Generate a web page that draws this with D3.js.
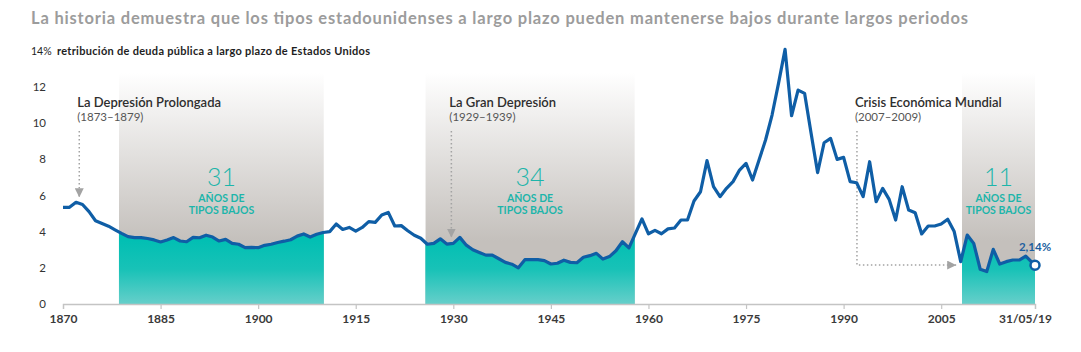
<!DOCTYPE html>
<html><head><meta charset="utf-8">
<script src="https://cdn.jsdelivr.net/npm/d3@7"></script>
<style>
body{margin:0;background:#fff}
svg{display:block}
text{font-family:Lato,'Open Sans',sans-serif}
</style>
</head><body>
<svg id="c" width="1081" height="352"></svg>
<script>
// ---------- data ----------
const years = d3.range(1870, 2019).concat([2019.42]);
const yields = [
  5.34,5.34,5.62,5.50,5.10,4.60,4.45,4.30,4.10,3.90,   // 1870-1879
  3.72,3.67,3.67,3.62,3.54,3.43,3.54,3.67,3.48,3.44,   // 1880-1889
  3.68,3.66,3.80,3.70,3.48,3.57,3.35,3.30,3.11,3.13,   // 1890-1899
  3.11,3.24,3.30,3.40,3.47,3.55,3.75,3.87,3.70,3.85,   // 1900-1909
  3.95,4.00,4.42,4.12,4.23,4.03,4.23,4.55,4.51,4.92,   // 1910-1919
  5.06,4.31,4.33,4.05,3.80,3.63,3.30,3.35,3.60,3.31,   // 1920-1929
  3.35,3.68,3.25,3.00,2.85,2.70,2.70,2.50,2.30,2.20,   // 1930-1939
  2.00,2.45,2.45,2.45,2.40,2.21,2.25,2.42,2.30,2.28,   // 1940-1949
  2.58,2.67,2.80,2.48,2.62,2.94,3.44,3.10,3.90,4.70,   // 1950-1959
  3.88,4.07,3.88,4.15,4.20,4.64,4.64,5.69,6.20,7.92,   // 1960-1969
  6.48,5.93,6.39,6.76,7.40,7.77,6.85,7.96,9.06,10.44,  // 1970-1979
  12.20,14.07,10.40,11.82,11.64,9.43,7.26,8.91,9.15,7.99, // 1980-1989
  8.10,6.76,6.70,5.93,7.86,5.65,6.39,5.78,4.64,6.48,   // 1990-1999
  5.19,5.04,3.87,4.31,4.31,4.42,4.68,4.00,2.34,3.81,   // 2000-2009
  3.35,1.92,1.79,3.02,2.21,2.34,2.43,2.43,2.65,        // 2010-2018
  2.14                                                 // 31/05/2019
];
const lastLabel = "2,14%";

const bandStart = [1878.6, 1925.7, 2008.2];
const bandEnd   = [1910.1, 1957.9, 2019.42];
const bandCount = ["31", "34", "11"];
const bandText1 = "AÑOS DE";
const bandText2 = "TIPOS BAJOS";
const bandTop = 12.8;

const annTitles  = ["La Depresión Prolongada", "La Gran Depresión", "Crisis Económica Mundial"];
const annPeriods = ["(1873–1879)", "(1929–1939)", "(2007–2009)"];
const annYears   = [1872.5, 1929.7, 1992.05];
const crisisArrowEnd = 2007.3;
const crisisArrowValue = 2.15;

const yTicks = [0, 2, 4, 6, 8, 10, 12];
const xTicks = [1870, 1885, 1900, 1915, 1930, 1945, 1960, 1975, 1990, 2005, 2019.42];
const xTickLabels = ["1870","1885","1900","1915","1930","1945","1960","1975","1990","2005","31/05/19"];

const titleText = "La historia demuestra que los tipos estadounidenses a largo plazo pueden mantenerse bajos durante largos periodos";
const unitText = "14%";
const subtitleText = "retribución de deuda pública a largo plazo de Estados Unidos";

// ---------- layout ----------
const svg = d3.select("#c");
const x = d3.scaleLinear().domain([1870, 2019.42]).range([63, 1035]);
const y = d3.scaleLinear().domain([0, 14]).range([304, 50.6]);
const pts = years.map((yr, i) => ({yr, v: yields[i]}));
const TEAL = "#1db5aa";
const BLUE = "#0f5ea6";

const defs = svg.append("defs");
const gg = defs.append("linearGradient").attr("id","gray").attr("gradientUnits","userSpaceOnUse")
  .attr("x1",0).attr("x2",0).attr("y1",y(bandTop)).attr("y2",y(3.5));
gg.append("stop").attr("offset",0).attr("stop-color","#ffffff");
gg.append("stop").attr("offset",1).attr("stop-color","#c4c0bc");
const tg = defs.append("linearGradient").attr("id","teal").attr("gradientUnits","userSpaceOnUse")
  .attr("x1",0).attr("x2",0).attr("y1",y(3.5)).attr("y2",y(0));
tg.append("stop").attr("offset",0).attr("stop-color","#02bfb3");
tg.append("stop").attr("offset",0.45).attr("stop-color","#18c2b7");
tg.append("stop").attr("offset",1).attr("stop-color","#66cfca");
const mk = defs.append("marker").attr("id","arr").attr("viewBox","0 0 10 10").attr("refX",10).attr("refY",5)
  .attr("markerWidth",9).attr("markerHeight",9).attr("markerUnits","userSpaceOnUse").attr("orient","auto");
mk.append("path").attr("d","M0,0L10,5L0,10Z").attr("fill","#a3a3a3");

// title
svg.append("text").attr("x",31).attr("y",24).attr("font-size",16.5).attr("font-weight",700)
  .attr("fill","#9c9c9c").attr("textLength",937).attr("lengthAdjust","spacing").text(titleText);
svg.append("text").attr("x",31).attr("y",55).attr("font-size",10.5).attr("fill","#222").text(unitText);
svg.append("text").attr("x",57).attr("y",55).attr("font-size",11).attr("font-weight",700).attr("fill","#1e1e1e")
  .attr("textLength",313).attr("lengthAdjust","spacing").text(subtitleText);

// bands
bandStart.forEach((s, i) => {
  const e = bandEnd[i];
  const cid = "clip" + i;
  defs.append("clipPath").attr("id", cid).append("rect")
    .attr("x", x(s)).attr("y", 0).attr("width", x(e) - x(s)).attr("height", 400);
  const g = svg.append("g").attr("clip-path", `url(#${cid})`);
  g.append("rect").attr("x", x(s)).attr("y", y(bandTop)).attr("width", x(e)-x(s))
    .attr("height", y(0)-y(bandTop)).attr("fill","url(#gray)");
  g.append("path").datum(pts)
    .attr("d", d3.area().x(d => x(d.yr)).y0(y(0)).y1(d => y(d.v)))
    .attr("fill","url(#teal)");
  const cx = (x(s) + x(e)) / 2;
  svg.append("text").attr("x",cx).attr("y",185.5).attr("text-anchor","middle")
    .attr("font-size",25).attr("font-weight",300).attr("fill",TEAL).text(bandCount[i]);
  svg.append("text").attr("x",cx).attr("y",202).attr("text-anchor","middle")
    .attr("font-size",10.5).attr("font-weight",700).attr("fill",TEAL).text(bandText1);
  svg.append("text").attr("x",cx).attr("y",213.5).attr("text-anchor","middle")
    .attr("font-size",10.5).attr("font-weight",700).attr("fill",TEAL).text(bandText2);
});

// axes
const yAxis = svg.append("g").attr("transform","translate(46,0)")
  .call(d3.axisLeft(y).tickValues(yTicks).tickSize(0).tickPadding(0).tickFormat(d3.format("d")));
yAxis.select(".domain").remove();
yAxis.selectAll("text").attr("font-size",11.5).attr("fill","#333").attr("font-family","Lato,'Open Sans',sans-serif");

const xAxis = svg.append("g").attr("transform",`translate(0,${y(0)})`)
  .call(d3.axisBottom(x).tickValues(xTicks).tickSize(5).tickPadding(5).tickFormat((d,i) => xTickLabels[i]));
xAxis.select(".domain").attr("stroke","#c4c4c4").attr("stroke-width",1.3);
xAxis.selectAll(".tick line").attr("stroke","#c4c4c4").attr("stroke-width",1.2);
xAxis.selectAll("text").attr("font-size",12).attr("font-weight",700).attr("fill","#3a3a3a")
  .attr("font-family","Lato,'Open Sans',sans-serif");
xAxis.selectAll(".tick").filter((d,i) => i === xTicks.length - 1).select("text").attr("dx", -10);

// annotations
const interp = yr => {
  const i = d3.bisector(d => d.yr).left(pts, yr);
  const a = pts[i-1], b = pts[i];
  return a.v + (b.v - a.v) * (yr - a.yr) / (b.yr - a.yr);
};
annTitles.forEach((t, i) => {
  const ax = x(annYears[i]);
  svg.append("text").attr("x", ax - 2).attr("y", 107).attr("font-size",13).attr("font-weight",600)
    .attr("fill","#2e2e2e").text(t);
  svg.append("text").attr("x", ax - 2).attr("y", 121).attr("font-size",11.5)
    .attr("fill","#555").text(annPeriods[i]);
  let d;
  if (i < 2) {
    d = `M${ax},131 L${ax},${y(interp(annYears[i])) - 6}`;
  } else {
    const hy = y(crisisArrowValue);
    d = `M${ax},131 L${ax},${hy} L${x(crisisArrowEnd)},${hy}`;
  }
  svg.append("path").attr("d", d).attr("fill","none").attr("stroke","#a3a3a3")
    .attr("stroke-width",1.5).attr("stroke-dasharray","1.5,2.5").attr("marker-end","url(#arr)");
});

// line
svg.append("path").datum(pts)
  .attr("d", d3.line().x(d => x(d.yr)).y(d => y(d.v)))
  .attr("fill","none").attr("stroke",BLUE).attr("stroke-width",3.2).attr("stroke-linejoin","round");

// end point
const last = pts[pts.length - 1];
svg.append("circle").attr("cx", x(last.yr)).attr("cy", y(last.v)).attr("r",4.5)
  .attr("fill","#fff").attr("stroke",BLUE).attr("stroke-width",2.5);
svg.append("text").attr("x", x(last.yr)).attr("y", y(last.v) - 14).attr("text-anchor","middle")
  .attr("font-size",11.5).attr("font-weight",700).attr("fill","#1d5fa0").text(lastLabel);
</script>
</body></html>
